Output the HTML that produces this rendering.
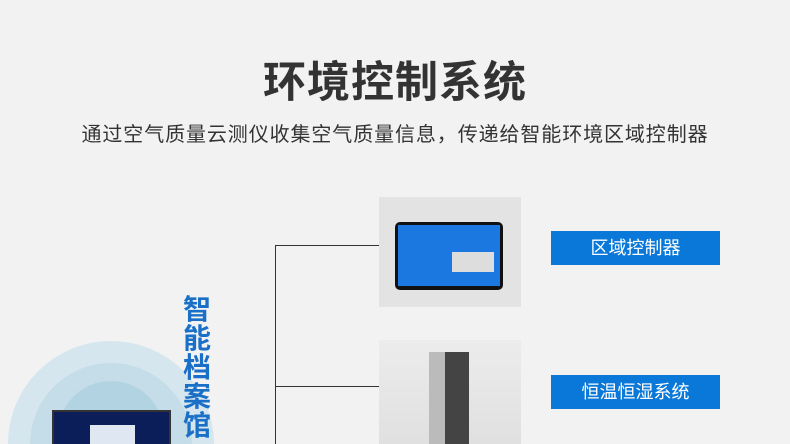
<!DOCTYPE html>
<html style="width:790px;height:444px;overflow:hidden"><head><meta charset="utf-8"><style>
*{margin:0;padding:0;box-sizing:border-box}
body{width:790px;height:444px;overflow:hidden;background:#f2f2f2;font-family:"Liberation Sans","Noto Sans CJK SC",sans-serif}
#w{position:relative;width:790px;height:444px;overflow:hidden}
.a{position:absolute}
h1{position:absolute;top:48px;left:0;width:790px;text-align:center;font-size:43px;font-weight:bold;color:#333;letter-spacing:1px}
.sub{top:118px;left:0;width:790px;text-align:center;font-size:20px;letter-spacing:0.9px;color:#333}
.btn{background:#0a78d8;color:#fff;font-size:18px;text-align:center;line-height:34px;width:169px;height:34px;left:551px}
.circ{border-radius:50%}
</style></head><body><div id="w">
<h1>环境控制系统</h1>
<div class="a sub">通过空气质量云测仪收集空气质量信息，传递给智能环境区域控制器</div>
<div class="a circ" style="left:8px;top:341px;width:206px;height:206px;background:#d6e6ee"></div>
<div class="a circ" style="left:30px;top:363px;width:162px;height:162px;background:#c4dde8"></div>
<div class="a circ" style="left:58px;top:381px;width:106px;height:106px;background:#b2d3e1"></div>
<div class="a" style="left:52px;top:410px;width:119px;height:40px;background:#0b1e5a;border:2px solid #333"></div>
<div class="a" style="left:90px;top:425px;width:45px;height:20px;background:#dfe8f2"></div>
<div class="a" style="left:183px;top:295px;width:32px;height:149px;overflow:hidden;font-size:28px;font-weight:bold;color:#1a6fc7;line-height:29px">智能档案馆</div>
<div class="a" style="left:275px;top:245px;width:1px;height:199px;background:#333"></div>
<div class="a" style="left:275px;top:245px;width:104px;height:1px;background:#333"></div>
<div class="a" style="left:275px;top:386px;width:104px;height:1px;background:#333"></div>
<div class="a" style="left:379px;top:197px;width:142px;height:110px;background:#e3e3e3"></div>
<div class="a" style="left:395px;top:222px;width:108px;height:68px;background:#111;border-radius:5px"></div>
<div class="a" style="left:398px;top:225px;width:102px;height:61px;background:#1a78e0"></div>
<div class="a" style="left:452px;top:252px;width:42px;height:20px;background:#ddd"></div>
<div class="a" style="left:379px;top:340px;width:142px;height:104px;background:linear-gradient(#ececec,#e0e0e0)"></div>
<div class="a" style="left:429px;top:352px;width:16px;height:92px;background:#bbb"></div>
<div class="a" style="left:445px;top:352px;width:24px;height:92px;background:#444"></div>
<div class="a btn" style="top:231px">区域控制器</div>
<div class="a btn" style="top:375px">恒温恒湿系统</div>
</div></body></html>
